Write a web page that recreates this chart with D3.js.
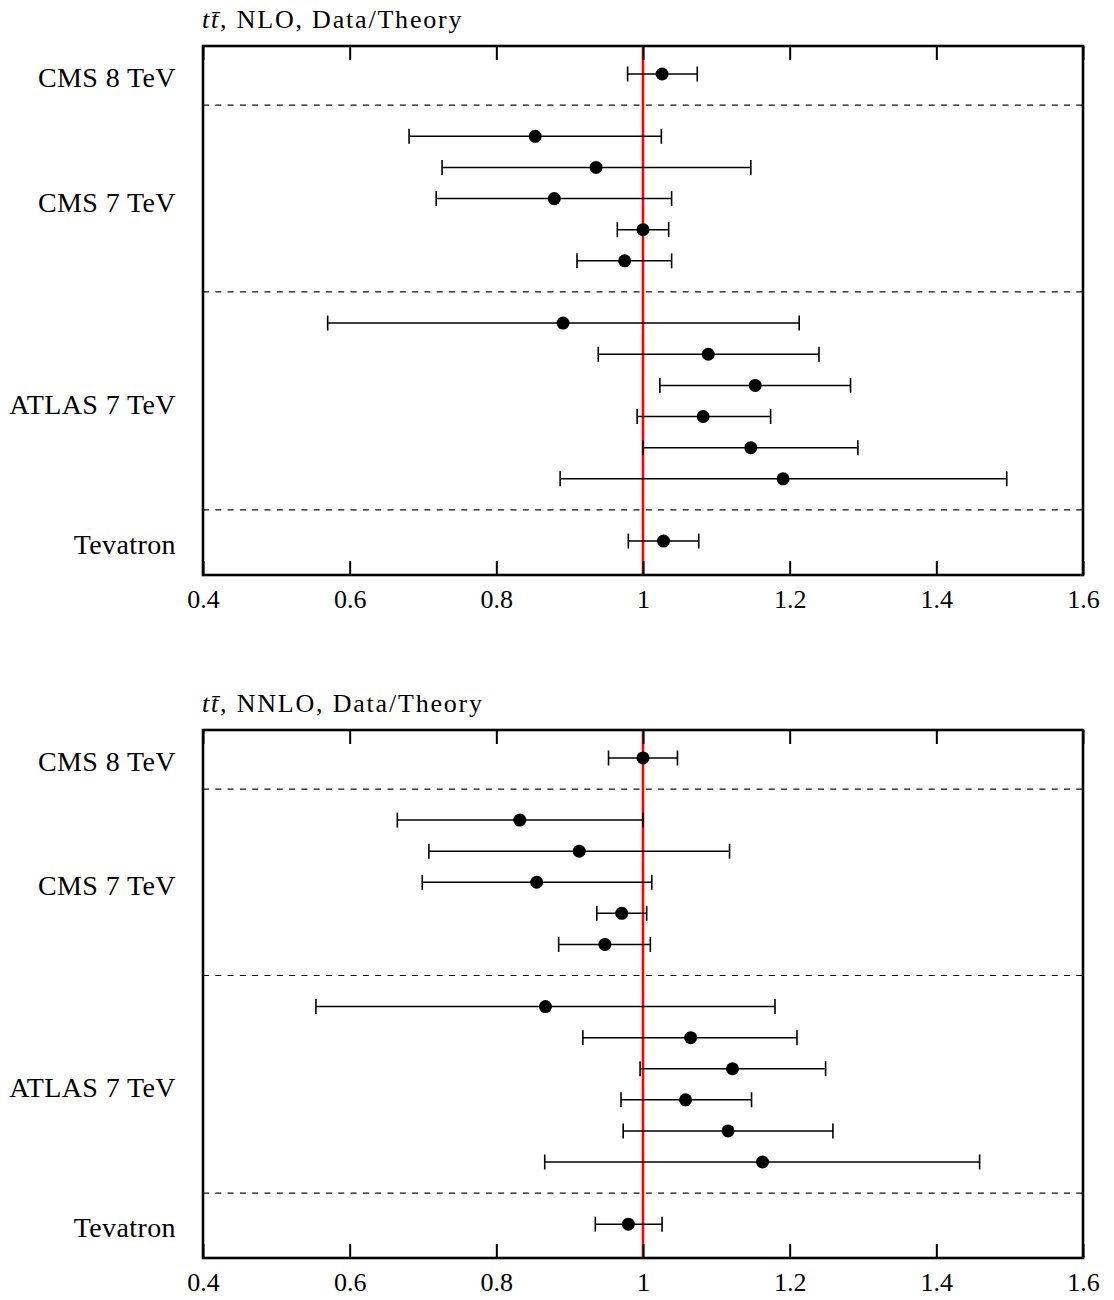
<!DOCTYPE html>
<html>
<head>
<meta charset="utf-8">
<script src="https://cdn.jsdelivr.net/npm/d3@7"></script>
<style>
  html, body { margin: 0; padding: 0; background: #fff; }
  svg { display: block; }
  text { font-family: "Liberation Serif", "DejaVu Serif", serif; fill: #000; }
</style>
</head>
<body>
<svg id="chart" width="1114" height="1300"></svg>
<script>
// ---- data ----
const groups = ["CMS 8 TeV", "CMS 7 TeV", "ATLAS 7 TeV", "Tevatron"];
const groupSizes = [1, 5, 6, 1];

const nloCentral = [1.026, 0.853, 0.936, 0.879, 1.000, 0.975, 0.891, 1.089, 1.153, 1.082, 1.147, 1.191, 1.028];
const nloLow     = [0.979, 0.681, 0.726, 0.718, 0.965, 0.910, 0.570, 0.939, 1.023, 0.992, 1.000, 0.887, 0.980];
const nloHigh    = [1.074, 1.025, 1.147, 1.039, 1.035, 1.039, 1.213, 1.240, 1.283, 1.174, 1.293, 1.496, 1.076];

const nnloCentral = [1.000, 0.832, 0.913, 0.855, 0.971, 0.948, 0.867, 1.065, 1.122, 1.058, 1.116, 1.163, 0.980];
const nnloLow     = [0.953, 0.665, 0.708, 0.699, 0.937, 0.885, 0.554, 0.918, 0.996, 0.970, 0.973, 0.866, 0.935];
const nnloHigh    = [1.047, 1.000, 1.118, 1.012, 1.005, 1.010, 1.180, 1.210, 1.249, 1.148, 1.259, 1.459, 1.026];

const xTicks = [0.4, 0.6, 0.8, 1.0, 1.2, 1.4, 1.6];
const xTickLabels = ["0.4", "0.6", "0.8", "1", "1.2", "1.4", "1.6"];
const xDomain = [0.4, 1.6];
const referenceValue = 1.0;

const panels = [
  { order: "NLO",  central: nloCentral,  low: nloLow,  high: nloHigh,  top: 46,  bottom: 575 },
  { order: "NNLO", central: nnloCentral, low: nnloLow, high: nnloHigh, top: 730, bottom: 1258 }
];

// ---- layout: slots for measurements and separators ----
const measSlots = [];
const sepSlots = [];
const labelSlots = [];
(function () {
  let slot = 0;
  groupSizes.forEach((n, gi) => {
    if (gi > 0) { sepSlots.push(slot); slot++; }
    const s0 = slot;
    for (let i = 0; i < n; i++) { measSlots.push(slot); slot++; }
    labelSlots.push((s0 + slot - 1) / 2);
  });
})();

const svg = d3.select("#chart");
const left = 203, right = 1083;

const x = d3.scaleLinear().domain(xDomain).range([left, right]);

panels.forEach(p => {
  const y = d3.scaleLinear().domain([-0.9, 16.09]).range([p.top, p.bottom]);
  const g = svg.append("g");

  // title
  const title = g.append("text")
    .attr("x", left - 1)
    .attr("y", p.top - 18)
    .attr("font-size", 26)
    .attr("letter-spacing", 1.8);
  title.append("tspan").attr("font-style", "italic").text("t");
  title.append("tspan").attr("font-style", "italic").text("t\u0304");
  title.append("tspan").text(", " + p.order + ", Data/Theory");

  // separators
  g.selectAll("line.sep").data(sepSlots).enter().append("line")
    .attr("class", "sep")
    .attr("x1", left).attr("x2", right)
    .attr("y1", d => y(d)).attr("y2", d => y(d))
    .attr("stroke", "#111").attr("stroke-width", 1.2)
    .attr("stroke-dasharray", "6,6.3");

  // reference line
  g.append("line")
    .attr("x1", x(referenceValue)).attr("x2", x(referenceValue))
    .attr("y1", p.top).attr("y2", p.bottom)
    .attr("stroke", "#ff0000").attr("stroke-width", 2.6);

  const data = p.central.map((c, i) => ({ c, lo: p.low[i], hi: p.high[i], slot: measSlots[i] }));

  // error bars
  g.selectAll("line.err").data(data).enter().append("line")
    .attr("class", "err")
    .attr("x1", d => x(d.lo)).attr("x2", d => x(d.hi))
    .attr("y1", d => y(d.slot)).attr("y2", d => y(d.slot))
    .attr("stroke", "#000").attr("stroke-width", 1.5);
  ["lo", "hi"].forEach(k => {
    g.selectAll("line.cap" + k).data(data).enter().append("line")
      .attr("class", "cap" + k)
      .attr("x1", d => x(d[k])).attr("x2", d => x(d[k]))
      .attr("y1", d => y(d.slot) - 7.5).attr("y2", d => y(d.slot) + 7.5)
      .attr("stroke", "#000").attr("stroke-width", 1.6);
  });

  // points
  g.selectAll("circle").data(data).enter().append("circle")
    .attr("cx", d => x(d.c)).attr("cy", d => y(d.slot))
    .attr("r", 6.5).attr("fill", "#000");

  // axes: bottom with inward ticks
  const axB = d3.axisBottom(x).tickValues(xTicks)
    .tickFormat((d, i) => xTickLabels[i]).tickSizeInner(-14).tickSizeOuter(0);
  const gb = g.append("g").attr("transform", `translate(0,${p.bottom})`).call(axB);
  gb.select(".domain").remove();
  gb.selectAll(".tick line").attr("stroke", "#000").attr("stroke-width", 2);
  gb.selectAll(".tick text")
    .attr("y", 33).attr("dy", 0)
    .attr("font-size", 26)
    .attr("font-family", "'Liberation Serif', serif");

  const axT = d3.axisTop(x).tickValues(xTicks).tickFormat("").tickSizeInner(-14).tickSizeOuter(0);
  const gt = g.append("g").attr("transform", `translate(0,${p.top})`).call(axT);
  gt.select(".domain").remove();
  gt.selectAll(".tick line").attr("stroke", "#000").attr("stroke-width", 2);

  // frame
  g.append("rect")
    .attr("x", left).attr("y", p.top)
    .attr("width", right - left).attr("height", p.bottom - p.top)
    .attr("fill", "none").attr("stroke", "#000").attr("stroke-width", 2.6);

  // group labels
  g.selectAll("text.glab").data(groups).enter().append("text")
    .attr("class", "glab")
    .attr("x", left - 27)
    .attr("y", (d, i) => y(labelSlots[i]) + 13)
    .attr("text-anchor", "end")
    .attr("font-size", 28)
    .attr("letter-spacing", 0.4)
    .text(d => d);
});
</script>
</body>
</html>
